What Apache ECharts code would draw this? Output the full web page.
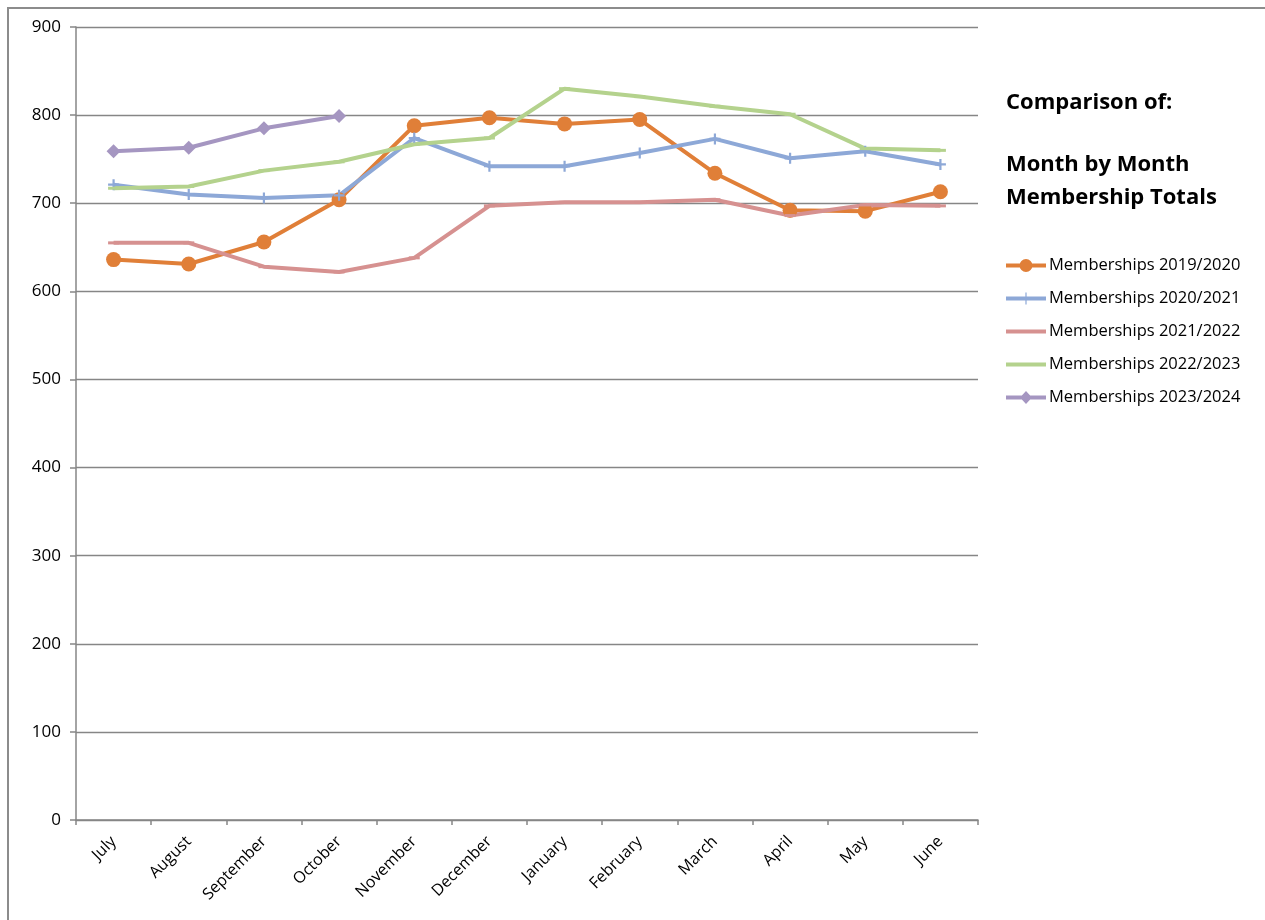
<!DOCTYPE html>
<html>
<head>
<meta charset="utf-8">
<script src="https://cdn.jsdelivr.net/npm/echarts@6/dist/echarts.min.js"></script>
<style>
  html, body { margin: 0; padding: 0; background: #fff; }
  #frame { position: absolute; left: 7px; top: 7px; width: 1300px; height: 1000px; border: 2px solid #8c8c8c; box-sizing: border-box; }
  #chart { position: absolute; left: 0; top: 0; width: 1265px; height: 920px; }
</style>
</head>
<body>
<div id="frame"></div>
<div id="chart"></div>
<script>
// Month-by-month membership totals for five seasons (July to June)
const months = ['July', 'August', 'September', 'October', 'November', 'December',
                'January', 'February', 'March', 'April', 'May', 'June'];

const m2019 = [636, 631, 656, 704, 788, 797, 790, 795, 734, 692, 691, 713];
const m2020 = [721, 710, 706, 709, 774, 742, 742, 757, 773, 751, 759, 744];
const m2021 = [655, 655, 628, 622, 638, 697, 701, 701, 704, 686, 698, 697];
const m2022 = [717, 719, 737, 747, 767, 774, 830, 821, 810, 801, 762, 760];
const m2023 = [759, 763, 785, 799];

const seriesNames = ['Memberships 2019/2020', 'Memberships 2020/2021', 'Memberships 2021/2022',
                     'Memberships 2022/2023', 'Memberships 2023/2024'];

const yTicks = [0, 100, 200, 300, 400, 500, 600, 700, 800, 900];

const FONT = "'Open Sans', 'Noto Sans', sans-serif";

// Point markers
const plusPath = 'path://M4,0 L6,0 L6,4 L10,4 L10,6 L6,6 L6,10 L4,10 L4,6 L0,6 L0,4 L4,4 Z';
const dashPath = 'path://M0,0 L10,0 L10,3 L0,3 Z';

// Legend icons on a 40x14 box: a thick stroke with the series marker on it.
// The two zero-area sub-paths pin the bounding box to the full box height.
const BOX = 'M0,0 L0.01,0 Z M0,14 L0.01,14 Z ';
const BAR = 'M0,5 L40,5 L40,9 L0,9 Z ';
const iconCircle = 'path://' + BOX + BAR + 'M13.5,7 A6.5,6.5 0 1,1 26.5,7 A6.5,6.5 0 1,1 13.5,7 Z';
const iconPlus = 'path://' + BOX + BAR + 'M19.4,1 L20.6,1 L20.6,13 L19.4,13 Z';
const iconLine = 'path://' + BOX + BAR;
const iconDiamond = 'path://' + BOX + BAR + 'M20,0.5 L26,7 L20,13.5 L14,7 Z';
const legendIcons = [iconCircle, iconPlus, iconLine, iconLine, iconDiamond];

function makeSeries(name, data, color, symbol, size) {
  return {
    name: name,
    type: 'line',
    data: data,
    symbol: symbol,
    symbolSize: size,
    showSymbol: true,
    lineStyle: { color: color, width: 4 },
    itemStyle: { color: color },
    emphasis: { disabled: true },
    animation: false
  };
}

const chart = echarts.init(document.getElementById('chart'), null, { renderer: 'canvas' });
chart.setOption({
  backgroundColor: 'transparent',
  textStyle: { fontFamily: FONT },
  grid: { left: 76, right: 287, top: 27, bottom: 100, containLabel: false },
  xAxis: {
    type: 'category',
    data: months,
    boundaryGap: true,
    axisLine: { lineStyle: { color: '#868686', width: 1.5 } },
    axisTick: { show: true, length: 5, lineStyle: { color: '#868686', width: 1.5 } },
    axisLabel: { rotate: 45, fontSize: 16, color: '#000', margin: 19, fontFamily: FONT }
  },
  yAxis: {
    type: 'value',
    min: yTicks[0],
    max: yTicks[yTicks.length - 1],
    interval: 100,
    axisLine: { show: true, lineStyle: { color: '#868686', width: 1.5 } },
    axisTick: { show: true, length: 6, lineStyle: { color: '#868686', width: 1.5 } },
    axisLabel: { fontSize: 17, color: '#000', margin: 15, fontFamily: FONT },
    splitLine: { show: true, lineStyle: { color: '#868686', width: 1.3 } }
  },
  legend: {
    orient: 'vertical',
    left: 1006,
    top: 257,
    padding: 0,
    itemWidth: 40,
    itemHeight: 14,
    itemGap: 16,
    symbolKeepAspect: false,
    textStyle: { fontSize: 16.5, color: '#000', fontFamily: FONT, padding: [0, 0, 0, -2] },
    data: seriesNames.map((n, i) => ({ name: n, icon: legendIcons[i] }))
  },
  graphic: [
    { type: 'text', left: 1006, top: 92,
      style: { text: 'Comparison of:', font: "bold 22px " + FONT, fill: '#000' } },
    { type: 'text', left: 1006, top: 154,
      style: { text: 'Month by Month', font: "bold 22px " + FONT, fill: '#000' } },
    { type: 'text', left: 1006, top: 187,
      style: { text: 'Membership Totals', font: "bold 22px " + FONT, fill: '#000' } }
  ],
  series: [
    makeSeries(seriesNames[0], m2019, '#E07F38', 'circle', 15),
    makeSeries(seriesNames[1], m2020, '#8DA8D7', plusPath, 11),
    makeSeries(seriesNames[2], m2021, '#D69190', dashPath, [11, 3]),
    makeSeries(seriesNames[3], m2022, '#B4D28D', dashPath, [11, 3]),
    makeSeries(seriesNames[4], m2023, '#A596C1', 'diamond', 14)
  ]
});
</script>
</body>
</html>
